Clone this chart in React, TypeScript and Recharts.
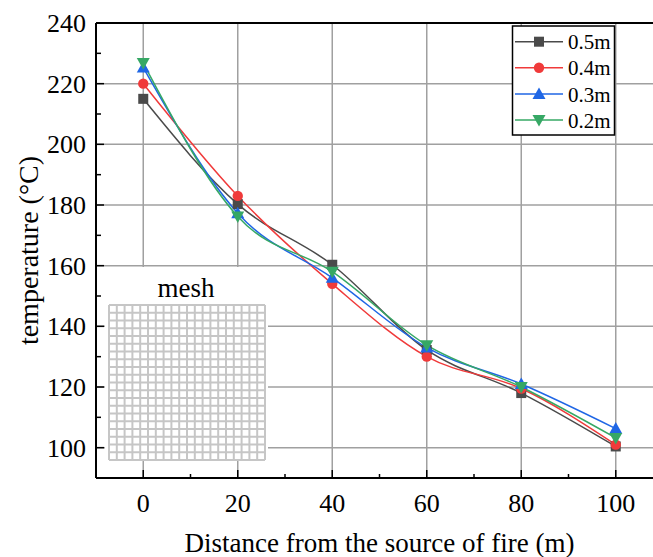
import React from "react";
import { LineChart, Line, XAxis, YAxis, ReferenceLine } from "recharts";

const distances = [0, 20, 40, 60, 80, 100];
const t05 = [215, 180.3, 160.3, 132.2, 118, 100.4];
const t04 = [220, 183, 154, 130, 119.5, 101];
const t03 = [225.3, 177.3, 156, 133, 121, 106.3];
const t02 = [226.8, 176.2, 158, 133.8, 120, 103.2];

const xTicks = [0, 10, 20, 30, 40, 50, 60, 70, 80, 90, 100];
const yTicks = [100, 110, 120, 130, 140, 150, 160, 170, 180, 190, 200, 210, 220, 230, 240];
const xGrid = [0, 20, 40, 60, 80, 100];
const yGrid = [100, 120, 140, 160, 180, 200, 220];

type Shape = "square" | "circle" | "up" | "down";

const series: { key: string; name: string; color: string; shape: Shape }[] = [
  { key: "s05", name: "0.5m", color: "#4a4a4a", shape: "square" },
  { key: "s04", name: "0.4m", color: "#f03a3a", shape: "circle" },
  { key: "s03", name: "0.3m", color: "#1f66e5", shape: "up" },
  { key: "s02", name: "0.2m", color: "#36a865", shape: "down" },
];

const rows = distances.map((d, i) => ({
  d,
  s05: t05[i],
  s04: t04[i],
  s03: t03[i],
  s02: t02[i],
}));

const FONT = "'Liberation Serif', 'Times New Roman', serif";

function Marker({ cx, cy, shape, color }: { cx: number; cy: number; shape: Shape; color: string }) {
  if (shape === "square") return <rect x={cx - 5} y={cy - 5} width={10} height={10} fill={color} />;
  if (shape === "circle") return <circle cx={cx} cy={cy} r={5.2} fill={color} />;
  if (shape === "up")
    return <polygon points={`${cx},${cy - 6.5} ${cx - 6.5},${cy + 5} ${cx + 6.5},${cy + 5}`} fill={color} />;
  return <polygon points={`${cx},${cy + 6.5} ${cx - 6.5},${cy - 5} ${cx + 6.5},${cy - 5}`} fill={color} />;
}

function XTick(props: any) {
  const { x, y, payload } = props;
  const major = payload.value % 20 === 0;
  return (
    <g>
      <line x1={x} x2={x} y1={y} y2={y - (major ? 8 : 4)} stroke="#000" strokeWidth={1.5} />
      {major && (
        <text x={x} y={y + 34} textAnchor="middle" fontSize={26} fontFamily={FONT} fill="#000">
          {payload.value}
        </text>
      )}
    </g>
  );
}

function YTick(props: any) {
  const { x, y, payload } = props;
  const major = payload.value % 20 === 0;
  return (
    <g>
      <line x1={x} x2={x + (major ? 8 : 5)} y1={y} y2={y} stroke="#000" strokeWidth={1.5} />
      {major && (
        <text x={x - 10} y={y + 9} textAnchor="end" fontSize={26} fontFamily={FONT} fill="#000">
          {payload.value}
        </text>
      )}
    </g>
  );
}

function YLabel(props: any) {
  const vb = props.viewBox || { y: 23, height: 455 };
  const cy = vb.y + vb.height / 2;
  return (
    <text
      x={38}
      y={cy}
      transform={`rotate(-90, 38, ${cy})`}
      textAnchor="middle"
      fontSize={28}
      fontFamily={FONT}
      fill="#000"
    >
      temperature (°C)
    </text>
  );
}

function MeshInset() {
  const n = 20;
  const x0 = 109;
  const y0 = 305;
  const w = 156;
  const h = 155;
  const lines = [];
  for (let i = 0; i <= n; i++) {
    const x = x0 + (w * i) / n;
    const y = y0 + (h * i) / n;
    lines.push(<line key={"v" + i} x1={x} x2={x} y1={y0} y2={y0 + h} stroke="#c6c6c6" strokeWidth={2} />);
    lines.push(<line key={"h" + i} x1={x0} x2={x0 + w} y1={y} y2={y} stroke="#c6c6c6" strokeWidth={2} />);
  }
  return (
    <g>
      <rect x={105} y={267} width={163} height={194} fill="#fff" />
      <text x={186} y={297} textAnchor="middle" fontSize={27} fontFamily={FONT} fill="#000">
        mesh
      </text>
      {lines}
    </g>
  );
}

function LegendBox() {
  const rowY = [41.7, 67.8, 94, 120];
  return (
    <g>
      <rect x={512.5} y={26} width={102} height={109} fill="#fff" stroke="#000" strokeWidth={1.5} />
      {series.map((s, i) => (
        <g key={s.key}>
          <line x1={515} x2={563} y1={rowY[i]} y2={rowY[i]} stroke={s.color} strokeWidth={1.5} />
          <Marker cx={539} cy={rowY[i]} shape={s.shape} color={s.color} />
          <text x={568} y={rowY[i] + 7.5} fontSize={21} fontFamily={FONT} fill="#000">
            {s.name}
          </text>
        </g>
      ))}
    </g>
  );
}

export default function App() {
  return (
    <div
      style={{
        position: "absolute",
        left: 0,
        top: 0,
        width: 653,
        height: 557,
        overflow: "hidden",
        background: "#fff",
      }}
    >
      <LineChart width={680} height={557} data={rows} margin={{ top: 23, right: 17, bottom: 0, left: 0 }}>
        {xGrid.map((v) => (
          <ReferenceLine key={"gx" + v} x={v} stroke="#a0a0a0" strokeWidth={1.5} />
        ))}
        {yGrid.map((v) => (
          <ReferenceLine key={"gy" + v} y={v} stroke="#a0a0a0" strokeWidth={1.5} />
        ))}
        <ReferenceLine y={240} stroke="#000" strokeWidth={2} />
        <XAxis
          dataKey="d"
          type="number"
          domain={[-10, 110]}
          ticks={xTicks}
          interval={0}
          tickSize={0}
          tickMargin={0}
          tickLine={false}
          tick={<XTick />}
          height={79}
          axisLine={{ stroke: "#000", strokeWidth: 2 }}
          label={{
            value: "Distance from the source of fire (m)",
            position: "insideBottom",
            offset: 5,
            fontSize: 27,
            fontFamily: FONT,
            fill: "#000",
          }}
        />
        <YAxis
          type="number"
          domain={[90, 240]}
          ticks={yTicks}
          interval={0}
          tickSize={0}
          tickMargin={0}
          tickLine={false}
          tick={<YTick />}
          width={96}
          axisLine={{ stroke: "#000", strokeWidth: 2 }}
          label={<YLabel />}
        />
        {series.map((s) => (
          <Line
            key={s.key}
            dataKey={s.key}
            name={s.name}
            type="monotone"
            stroke={s.color}
            strokeWidth={1.5}
            isAnimationActive={false}
            dot={(p: any) => (
              <Marker key={s.key + p.index} cx={p.cx} cy={p.cy} shape={s.shape} color={s.color} />
            )}
            activeDot={false}
          />
        ))}
      </LineChart>
      <svg
        width={653}
        height={557}
        style={{ position: "absolute", left: 0, top: 0, pointerEvents: "none" }}
      >
        <MeshInset />
        <LegendBox />
      </svg>
    </div>
  );
}
